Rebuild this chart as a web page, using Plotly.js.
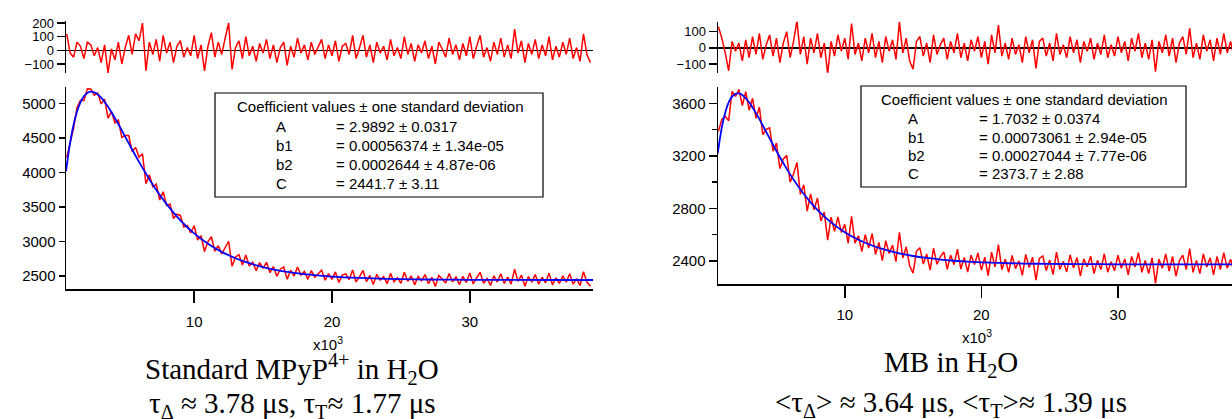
<!DOCTYPE html>
<html><head><meta charset="utf-8">
<script src="https://cdn.plot.ly/plotly-3.0.1.min.js"></script>
<style>html,body{margin:0;padding:0;background:#fff}#chart{width:1232px;height:419px}</style>
</head><body><div id="chart"></div>
<script>
// time axis (x10^3 ns): first sample and spacing
const sampleStart = 0.75;
const sampleStep = 0.25;

// ---- Left panel: Standard MPyP4+ in H2O ----
const residLeft = [
120,-20,-50,60,30,-60,60,40,-40,20,
-90,40,-165,10,-70,60,-100,20,110,-30,
120,70,200,-150,60,-30,80,-80,110,-20,
60,-90,30,70,-50,20,-40,110,-60,40,
-150,30,130,-50,60,-30,90,200,-140,20,
70,-60,100,-40,30,-80,50,-20,80,-60,
40,-90,20,60,-110,30,-50,90,-20,40,
-70,60,-30,20,80,-60,40,-40,70,-80,
30,50,-30,110,-60,20,110,-50,40,-90,
60,-20,30,-70,80,-40,20,-60,100,-30,
50,-80,40,-20,70,-60,30,-100,60,10,
-50,90,-30,40,-70,50,-40,100,-60,30,
110,-50,20,-80,60,-30,90,-50,40,-60,
155,-20,70,-90,50,-30,80,-60,40,-40,
100,-70,30,-50,60,-30,90,-60,20,-80,
120,-30,-90];
const dataLeft = [
4214,4412,4639,4940,5044,5042,5210,5208,5118,5148,
4991,5061,4785,4881,4716,4758,4507,4535,4534,4301,
4362,4222,4269,3836,3964,3792,3831,3600,3720,3520,
3542,3333,3395,3377,3210,3232,3125,3228,3020,3083,
2855,2998,3068,2859,2939,2820,2917,3003,2640,2777,
2809,2661,2803,2645,2701,2577,2694,2610,2699,2548,
2637,2496,2598,2631,2453,2584,2499,2631,2514,2567,
2452,2578,2483,2528,2584,2440,2536,2452,2559,2407,
2514,2532,2449,2587,2414,2492,2581,2419,2508,2376,
2525,2442,2491,2389,2538,2417,2476,2395,2555,2424,
2503,2372,2492,2431,2521,2390,2480,2349,2509,2458,
2398,2537,2417,2486,2376,2496,2405,2545,2385,2475,
2554,2394,2464,2364,2504,2413,2533,2393,2483,2383,
2598,2423,2513,2352,2492,2412,2522,2382,2482,2402,
2542,2372,2472,2392,2502,2412,2532,2382,2462,2362,
2562,2412,2352];
const fitTime = [0.7,1.0,1.25,1.5,1.75,2.0,2.25,2.5,2.75,3.0,
3.25,3.5,3.75,4.0,4.5,5.0,5.5,6,7,8,
9,10,11,12,13,14,15,16,17,18,
19,20,22,24,26,28,30,33,36,39];
const fitLeft = [4016,4432,4689,4880,5014,5102,5150,5168,5158,5128,
5081,5021,4950,4871,4698,4515,4331,4152,3822,3540,
3307,3118,2968,2850,2757,2685,2630,2586,2554,2527,
2508,2492,2472,2459,2452,2448,2445,2443,2442,2442];

// ---- Right panel: MB in H2O ----
const residRight = [
130,60,-30,-140,40,-20,30,-80,50,-60,
70,-40,90,-70,20,80,-50,60,-90,30,
100,-60,40,165,-40,70,-100,60,-30,90,
-60,30,-160,40,-50,80,-20,60,-70,150,
-40,30,-80,60,-30,90,-60,40,-90,70,
-20,50,-70,160,-30,60,-80,-130,40,70,
-50,30,-90,80,-40,20,60,-70,40,-30,
90,-60,30,-80,50,-20,70,-60,40,-100,
80,-30,140,-50,30,-70,60,-40,20,-90,
70,-30,50,-125,40,60,-50,30,-80,90,
-40,20,-60,70,-30,50,-90,40,-20,60,
-70,30,-40,80,-60,20,-50,70,-30,40,
-80,60,-20,90,-60,30,-70,50,-145,40,
-30,80,-50,60,-90,30,70,-40,120,-60,
30,-70,80,-20,50,-80,60,-40,90,-30,
40,-60,100];
const dataRight = [
3387,3477,3500,3466,3691,3652,3705,3583,3689,3547,
3638,3485,3569,3361,3402,3413,3235,3297,3103,3176,
3203,2999,3062,3150,2907,2980,2780,2910,2789,2879,
2705,2772,2558,2734,2625,2736,2618,2679,2535,2740,
2536,2592,2471,2600,2499,2608,2450,2541,2403,2554,
2458,2521,2395,2618,2423,2508,2363,2308,2474,2501,
2377,2453,2330,2498,2375,2432,2470,2337,2445,2372,
2490,2339,2427,2315,2444,2373,2461,2330,2429,2288,
2467,2356,2525,2335,2414,2313,2442,2342,2401,2291,
2450,2350,2429,2254,2419,2438,2328,2408,2297,2467,
2337,2397,2317,2446,2346,2426,2286,2416,2356,2436,
2305,2405,2335,2455,2315,2395,2325,2445,2345,2415,
2295,2435,2355,2464,2314,2404,2304,2424,2229,2414,
2344,2454,2324,2434,2284,2404,2444,2334,2494,2314,
2404,2304,2454,2354,2424,2294,2434,2334,2464,2344,
2414,2314,2474];
const fitRight = [3218,3417,3530,3606,3651,3672,3675,3663,3639,3607,
3568,3525,3479,3431,3333,3237,3145,3059,2910,2789,
2694,2619,2562,2518,2484,2458,2438,2423,2411,2402,
2395,2390,2383,2379,2377,2376,2375,2374,2374,2374];

// tick values
const xTicks = [10,20,30];
const yTicksLeft = [2500,3000,3500,4000,4500,5000];
const rTicksLeft = [-100,0,100,200];
const yTicksRight = [2400,2800,3200,3600];
const rTicksRight = [-100,0,100];

// coefficient table
const coefNames = ['A','b1','b2','C'];
const coefLeft = ['= 2.9892 ± 0.0317','= 0.00056374 ± 1.34e-05','= 0.0002644 ± 4.87e-06','= 2441.7 ± 3.11'];
const coefRight = ['= 1.7032 ± 0.0374','= 0.00073061 ± 2.94e-05','= 0.00027044 ± 7.77e-06','= 2373.7 ± 2.88'];

const W = 1232, H = 419;
const fx = p => p / W;
const fy = p => 1 - p / H;
const RED = '#ff0000', BLUE = '#0000ff';
const tickFont = {family: 'Liberation Sans, Arial, sans-serif', size: 15, color: '#000'};
const residTickFont = {family: 'Liberation Sans, Arial, sans-serif', size: 13, color: '#000'};

function baseAxis(extra) {
  return Object.assign({
    showgrid: false, zeroline: false, showline: true, linecolor: '#000', linewidth: 1.5,
    ticks: 'outside', tickcolor: '#000', tickwidth: 1.5, tickfont: tickFont, fixedrange: true
  }, extra);
}

const traces = [
  {x0: sampleStart, dx: sampleStep, y: dataLeft, xaxis: 'x', yaxis: 'y', mode: 'lines', line: {color: RED, width: 1.5}, hoverinfo: 'skip'},
  {x: fitTime, y: fitLeft, xaxis: 'x', yaxis: 'y', mode: 'lines', line: {color: BLUE, width: 1.8, shape: 'spline'}, hoverinfo: 'skip'},
  {x0: sampleStart, dx: sampleStep, y: residLeft, xaxis: 'x2', yaxis: 'y2', mode: 'lines', line: {color: RED, width: 1.5}, hoverinfo: 'skip'},
  {x0: sampleStart, dx: sampleStep, y: dataRight, xaxis: 'x3', yaxis: 'y3', mode: 'lines', line: {color: RED, width: 1.5}, hoverinfo: 'skip'},
  {x: fitTime, y: fitRight, xaxis: 'x3', yaxis: 'y3', mode: 'lines', line: {color: BLUE, width: 1.8, shape: 'spline'}, hoverinfo: 'skip'},
  {x0: sampleStart, dx: sampleStep, y: residRight, xaxis: 'x4', yaxis: 'y4', mode: 'lines', line: {color: RED, width: 1.5}, hoverinfo: 'skip'}
];

const serif = {family: 'Liberation Serif, Times New Roman, serif', size: 29, color: '#000'};
const boxFont = {family: 'Liberation Sans, Arial, sans-serif', size: 15, color: '#000'};

const annotations = [];
function ann(text, px, py, font, xanchor) {
  annotations.push({text: text, x: fx(px), y: fy(py), xref: 'paper', yref: 'paper', showarrow: false,
    xanchor: xanchor || 'center', yanchor: 'middle', font: font});
}
// panel captions
ann('Standard MPyP<sup>4+</sup> in H<sub>2</sub>O', 292, 369, serif);
ann('τ<sub>Δ</sub> ≈ 3.78 μs, τ<sub>T</sub>≈ 1.77 μs', 292, 405, serif);
ann('MB in H<sub>2</sub>O', 951, 364, serif);
ann('&lt;τ<sub>Δ</sub>&gt; ≈ 3.64 μs, &lt;τ<sub>T</sub>&gt;≈ 1.39 μs', 951, 404, serif);
// axis multipliers
const multFont = {family: 'Liberation Sans, Arial, sans-serif', size: 15, color: '#000'};
ann('x10<sup>3</sup>', 328, 343, multFont);
ann('x10<sup>3</sup>', 977, 336, multFont);
// coefficient boxes
const header = 'Coefficient values ± one standard deviation';
ann(header, 380, 107, boxFont);
const rowsL = [126, 145, 164, 183];
coefNames.forEach((n, i) => { ann(n, 274, rowsL[i], boxFont, 'left'); ann(coefLeft[i], 334, rowsL[i], boxFont, 'left'); });
ann(header, 1024, 100, boxFont);
const rowsR = [118, 137, 155, 174];
coefNames.forEach((n, i) => { ann(n, 906, rowsR[i], boxFont, 'left'); ann(coefRight[i], 977, rowsR[i], boxFont, 'left'); });

const shapes = [
  {type: 'rect', xref: 'paper', yref: 'paper', x0: fx(215), x1: fx(543), y0: fy(197), y1: fy(93), line: {color: '#000', width: 1.2}, fillcolor: 'rgba(0,0,0,0)'},
  {type: 'rect', xref: 'paper', yref: 'paper', x0: fx(861), x1: fx(1186), y0: fy(187), y1: fy(86), line: {color: '#000', width: 1.2}, fillcolor: 'rgba(0,0,0,0)'}
];

const layout = {
  width: W, height: H, margin: {l: 0, r: 0, t: 0, b: 0}, showlegend: false,
  paper_bgcolor: '#fff', plot_bgcolor: 'rgba(0,0,0,0)',
  xaxis: baseAxis({domain: [fx(66), fx(593)], range: [0.70, 38.94], anchor: 'y', tickmode: 'array', tickvals: xTicks, ticklen: 12, ticklabelstandoff: 6}),
  yaxis: baseAxis({domain: [fy(289), fy(87)], range: [2312, 5236], anchor: 'x', tickmode: 'array', tickvals: yTicksLeft, ticklen: 6}),
  xaxis2: {domain: [fx(66), fx(593)], range: [0.70, 38.94], anchor: 'y2', visible: false, fixedrange: true},
  yaxis2: baseAxis({domain: [fy(73), fy(20.7)], range: [-166, 217], anchor: 'x2', tickmode: 'array', tickvals: rTicksLeft, ticklen: 8,
    tickfont: residTickFont, zeroline: true, zerolinecolor: '#000', zerolinewidth: 1.2}),
  xaxis3: baseAxis({domain: [fx(718), 1], range: [0.72, 38.35], anchor: 'y3', tickmode: 'array', tickvals: xTicks, ticklen: 12, ticklabelstandoff: 4}),
  yaxis3: baseAxis({domain: [fy(284), fy(86.7)], range: [2225, 3726], anchor: 'x3', tickmode: 'array', tickvals: yTicksRight, ticklen: 8,
    minor: {dtick: 200, tick0: 0, ticks: 'outside', ticklen: 5, tickcolor: '#000', tickwidth: 1.5, showgrid: false}}),
  xaxis4: {domain: [fx(718), 1], range: [0.72, 38.35], anchor: 'y4', visible: false, fixedrange: true},
  yaxis4: baseAxis({domain: [fy(72.7), fy(21.7)], range: [-152, 161], anchor: 'x4', tickmode: 'array', tickvals: rTicksRight, ticklen: 8,
    tickfont: residTickFont, zeroline: true, zerolinecolor: '#000', zerolinewidth: 1.2}),
  annotations: annotations,
  shapes: shapes
};

Plotly.newPlot('chart', traces, layout, {displayModeBar: false, staticPlot: true});
</script>
</body></html>
